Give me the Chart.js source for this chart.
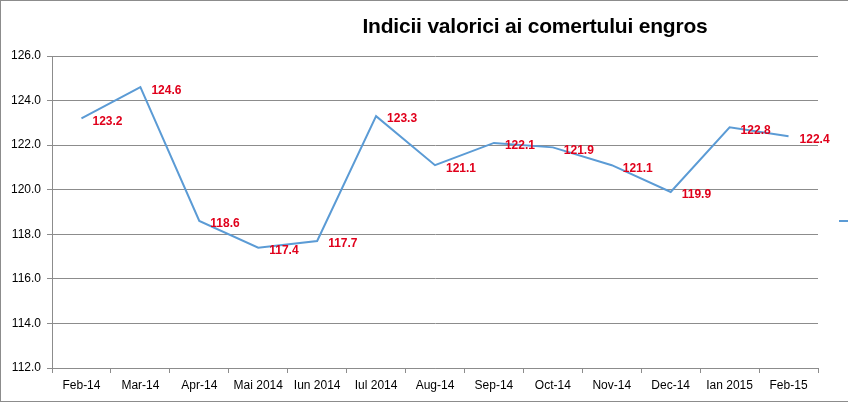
<!DOCTYPE html>
<html>
<head>
<meta charset="utf-8">
<script src="https://cdn.jsdelivr.net/npm/chart.js@4"></script>
<style>
    body { margin: 0; overflow: hidden; background: #fff; }
    #wrap { position: relative; width: 848px; height: 408px; }
    #frame { position: absolute; left: 0; top: 0; width: 900px; height: 400px; border: 1px solid #8c8c8c; pointer-events: none; }
    #title { position: absolute; left: 335px; width: 400px; top: 14px; text-align: center;
             font: bold 21px "Liberation Sans", Arial, sans-serif; color: #000; letter-spacing: -0.2px; }
</style>
</head>
<body>
<div id="wrap">
    <canvas id="indiciiChart" width="848" height="408"></canvas>
    <div id="frame"></div>
    <div id="title">Indicii valorici ai comertului engros</div>
</div>
<script>
var months = ['Feb-14', 'Mar-14', 'Apr-14', 'Mai 2014', 'Iun 2014', 'Iul 2014', 'Aug-14',
              'Sep-14', 'Oct-14', 'Nov-14', 'Dec-14', 'Ian 2015', 'Feb-15'];
var indici = [123.2, 124.6, 118.6, 117.4, 117.7, 123.3, 121.1, 122.1, 121.9, 121.1, 119.9, 122.8, 122.4];
var yMin = 112, yMax = 126, yStep = 2;

var lineColor = '#5b9bd5';

// etichete rosii langa fiecare punct
var valueLabels = {
    id: 'valueLabels',
    afterDatasetsDraw: function(chart){
        var ctx = chart.ctx;
        var meta = chart.getDatasetMeta(0);
        ctx.save();
        ctx.font = 'bold 12px "Liberation Sans", Arial, sans-serif';
        ctx.fillStyle = '#e0001b';
        ctx.textAlign = 'left';
        ctx.textBaseline = 'middle';
        meta.data.forEach(function(pt, i){
            ctx.fillText(indici[i].toFixed(1), pt.x + 11, pt.y + 3);
        });
        ctx.restore();
    }
};

// bucata de legenda taiata din dreapta
var legendStub = {
    id: 'legendStub',
    afterDraw: function(chart){
        var a = chart.chartArea;
        var ctx = chart.ctx;
        var y = (a.top + a.bottom) / 2 + 9;
        ctx.save();
        ctx.strokeStyle = lineColor;
        ctx.lineWidth = 2;
        ctx.beginPath();
        ctx.moveTo(a.right + 21, y);
        ctx.lineTo(a.right + 40, y);
        ctx.stroke();
        ctx.restore();
    }
};

var tickFont = { family: '"Liberation Sans", Arial, sans-serif', size: 12 };

var indiciiChart = new Chart(document.getElementById('indiciiChart'), {
    type: 'line',
    data: {
        labels: months,
        datasets: [{
            data: indici,
            borderColor: lineColor,
            borderWidth: 2,
            pointRadius: 0,
            tension: 0,
            fill: false
        }]
    },
    options: {
        responsive: false,
        animation: false,
        layout: { padding: { top: 56, right: 30, left: 0, bottom: 0 } },
        plugins: {
            legend: { display: false },
            title: { display: false },
            tooltip: { enabled: false }
        },
        scales: {
            x: {
                offset: true,
                grid: { display: true, drawOnChartArea: false, offset: true, color: '#8c8c8c', tickLength: 5 },
                border: { color: '#8c8c8c' },
                ticks: { color: '#000', font: tickFont, padding: 5, maxRotation: 0, autoSkip: false },
                afterFit: function(scale){ scale.height = 40; }
            },
            y: {
                min: yMin,
                max: yMax,
                grid: { color: '#8c8c8c', tickLength: 5 },
                border: { color: '#8c8c8c' },
                ticks: {
                    stepSize: yStep,
                    color: '#000',
                    font: tickFont,
                    padding: 6,
                    callback: function(v){ return v.toFixed(1); }
                },
                afterFit: function(scale){ scale.width = 52; }
            }
        }
    },
    plugins: [valueLabels, legendStub]
});
</script>
</body>
</html>
